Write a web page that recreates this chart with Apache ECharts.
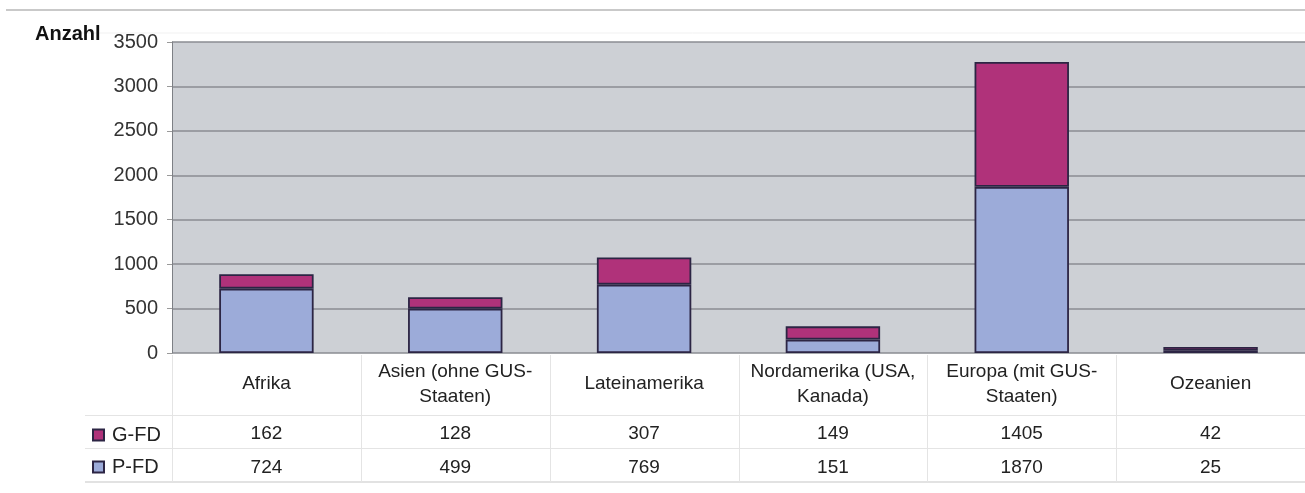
<!DOCTYPE html>
<html>
<head>
<meta charset="utf-8">
<script src="https://cdn.jsdelivr.net/npm/echarts@6/dist/echarts.min.js"></script>
<style>
html,body{margin:0;padding:0;background:#fff;}
#c{width:1305px;height:493px;}
</style>
</head>
<body>
<div id="c"></div>
<script>
const categories = ['Afrika', 'Asien (ohne GUS-\nStaaten)', 'Lateinamerika', 'Nordamerika (USA,\nKanada)', 'Europa (mit GUS-\nStaaten)', 'Ozeanien'];
const gfd = [162, 128, 307, 149, 1405, 42];
const pfd = [724, 499, 769, 151, 1870, 25];
const yTicks = [0, 500, 1000, 1500, 2000, 2500, 3000, 3500];

const G_LEFT = 172, G_RIGHT = 0, G_TOP = 42, G_BOTTOM = 140;
const W = 1305, H = 493;
const plotW = W - G_LEFT - G_RIGHT;
const colW = plotW / categories.length;
const font = 'Liberation Sans, Arial, sans-serif';

const lineStyle = {stroke: '#e4e4e4', lineWidth: 1};
const graphics = [
  {type: 'line', shape: {x1: 6, y1: 10, x2: W, y2: 10}, style: {stroke: '#c9c9c9', lineWidth: 2}},
  {type: 'line', shape: {x1: 80, y1: 33, x2: W, y2: 33}, style: {stroke: '#f1f1f1', lineWidth: 1}},
  {type: 'line', shape: {x1: 85, y1: 415.5, x2: W, y2: 415.5}, style: lineStyle},
  {type: 'line', shape: {x1: 85, y1: 448.5, x2: W, y2: 448.5}, style: lineStyle},
  {type: 'line', shape: {x1: 85, y1: 482, x2: W, y2: 482}, style: {stroke: '#d8d8d8', lineWidth: 1.5}},
  {type: 'line', shape: {x1: G_LEFT + 0.5, y1: 355, x2: G_LEFT + 0.5, y2: 482}, style: lineStyle}
];
for (let i = 1; i < categories.length; i++) {
  const x = Math.round(G_LEFT + i * colW) + 0.5;
  graphics.push({type: 'line', shape: {x1: x, y1: 355, x2: x, y2: 482}, style: lineStyle});
}

const chart = echarts.init(document.getElementById('c'), null, {renderer: 'canvas'});
chart.setOption({
  animation: false,
  backgroundColor: '#ffffff',
  textStyle: {fontFamily: font},
  title: {text: 'Anzahl', left: 30, top: 19, textStyle: {fontFamily: font, fontSize: 20, fontWeight: 'bold', color: '#111'}},
  legend: {
    data: ['G-FD', 'P-FD'], orient: 'vertical', left: 92, top: 425, padding: 0,
    icon: 'rect', itemWidth: 11, itemHeight: 11, itemGap: 12,
    textStyle: {fontFamily: font, fontSize: 20, color: '#222', padding: [0, 0, 0, 3]}
  },
  grid: {left: G_LEFT, right: G_RIGHT, top: G_TOP, bottom: G_BOTTOM, show: true, backgroundColor: '#cdd0d5', borderWidth: 0},
  xAxis: [
    {type: 'category', data: categories, position: 'bottom',
     axisLine: {show: false}, axisTick: {show: false},
     axisLabel: {interval: 0, margin: 31, verticalAlign: 'middle', fontSize: 19, lineHeight: 25, color: '#222', fontFamily: font}},
    {type: 'category', data: categories, position: 'bottom',
     axisLine: {show: false}, axisTick: {show: false},
     axisLabel: {interval: 0, margin: 81, verticalAlign: 'middle', fontSize: 19, color: '#222', fontFamily: font,
       formatter: (v, i) => String(gfd[i])}},
    {type: 'category', data: categories, position: 'bottom',
     axisLine: {show: false}, axisTick: {show: false},
     axisLabel: {interval: 0, margin: 115, verticalAlign: 'middle', fontSize: 19, color: '#222', fontFamily: font,
       formatter: (v, i) => String(pfd[i])}}
  ],
  yAxis: {
    type: 'value', min: yTicks[0], max: yTicks[yTicks.length - 1], interval: 500,
    axisLine: {show: true, lineStyle: {color: '#7d8085', width: 1}},
    axisTick: {show: true, length: 5, lineStyle: {color: '#9a9a9a'}},
    axisLabel: {fontSize: 20, color: '#333', margin: 14, fontFamily: font, formatter: v => String(v)},
    splitLine: {show: true, lineStyle: {color: '#8a8d92', width: 1.5}}
  },
  series: [
    {name: 'P-FD', type: 'bar', stack: 'a', data: pfd, barWidth: '50%', xAxisIndex: 0,
     itemStyle: {color: '#9cabd9', borderColor: '#2c2544', borderWidth: 1.8}},
    {name: 'G-FD', type: 'bar', stack: 'a', data: gfd, barWidth: '50%', xAxisIndex: 0,
     itemStyle: {color: '#b0327a', borderColor: '#2c2544', borderWidth: 1.8}}
  ],
  graphic: graphics
});
</script>
</body>
</html>
